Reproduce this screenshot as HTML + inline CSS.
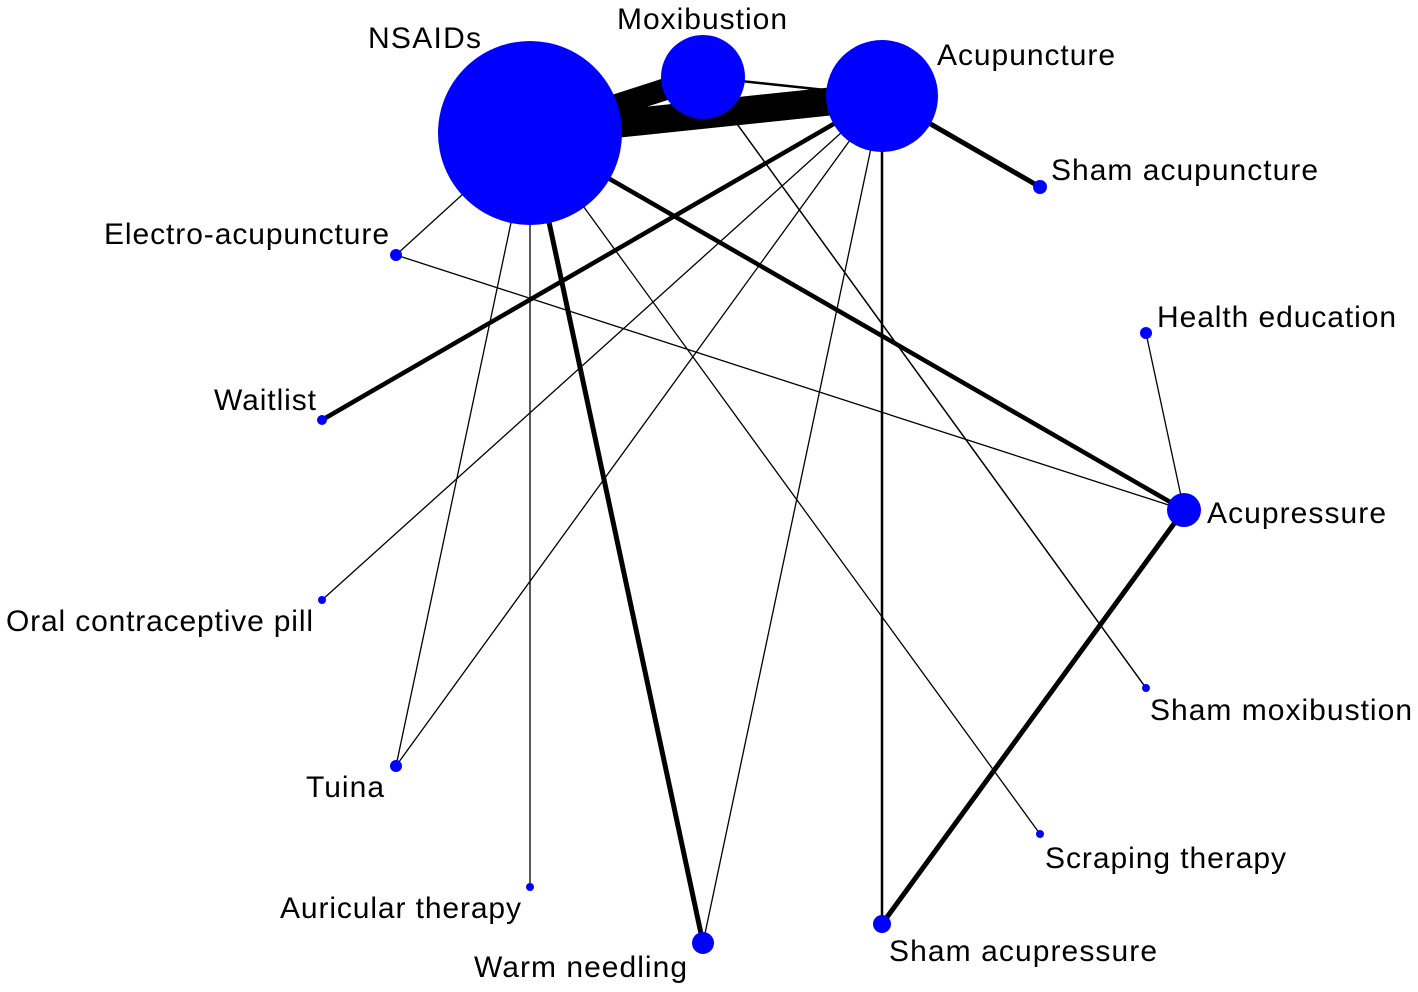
<!DOCTYPE html>
<html><head><meta charset="utf-8"><style>body{margin:0;background:#fff}svg{display:block}text{font-family:"Liberation Sans",sans-serif;font-size:30px;fill:#000}</style></head><body>
<svg width="1418" height="992" viewBox="0 0 1418 992" xmlns="http://www.w3.org/2000/svg">
<g stroke="#000" stroke-linecap="butt">
<line x1="530" y1="133" x2="703" y2="77" stroke-width="22"/>
<line x1="530" y1="133" x2="882" y2="96" stroke-width="28"/>
<line x1="703" y1="77" x2="882" y2="96" stroke-width="2.5"/>
<line x1="882" y1="96" x2="1040" y2="187" stroke-width="5"/>
<line x1="530" y1="133" x2="396" y2="255" stroke-width="1.3"/>
<line x1="396" y1="255" x2="1184" y2="510" stroke-width="1.3"/>
<line x1="1146" y1="333" x2="1184" y2="510" stroke-width="1.3"/>
<line x1="882" y1="96" x2="322" y2="420" stroke-width="4.5"/>
<line x1="530" y1="133" x2="1184" y2="510" stroke-width="4.5"/>
<line x1="882" y1="96" x2="322" y2="600" stroke-width="1.3"/>
<line x1="703" y1="77" x2="1146" y2="688" stroke-width="1.5"/>
<line x1="530" y1="133" x2="396" y2="766" stroke-width="1.3"/>
<line x1="882" y1="96" x2="396" y2="766" stroke-width="1.3"/>
<line x1="530" y1="133" x2="1040" y2="834" stroke-width="1.3"/>
<line x1="530" y1="133" x2="530" y2="887" stroke-width="1.3"/>
<line x1="530" y1="133" x2="703" y2="943" stroke-width="5"/>
<line x1="882" y1="96" x2="703" y2="943" stroke-width="1.3"/>
<line x1="882" y1="96" x2="882" y2="924" stroke-width="2.5"/>
<line x1="1184" y1="510" x2="882" y2="924" stroke-width="5"/>
</g>
<g fill="#0000ff">
<circle cx="530" cy="133" r="92"/>
<circle cx="703" cy="77" r="42"/>
<circle cx="882" cy="96" r="56"/>
<circle cx="1040" cy="187" r="7"/>
<circle cx="396" cy="255" r="6"/>
<circle cx="1146" cy="333" r="6"/>
<circle cx="322" cy="420" r="5"/>
<circle cx="1184" cy="510" r="17"/>
<circle cx="322" cy="600" r="4"/>
<circle cx="1146" cy="688" r="4"/>
<circle cx="396" cy="766" r="6"/>
<circle cx="1040" cy="834" r="4"/>
<circle cx="530" cy="887" r="4"/>
<circle cx="703" cy="943" r="11"/>
<circle cx="882" cy="924" r="9"/>
</g>
<text x="368" y="48" textLength="113">NSAIDs</text>
<text x="617" y="29" textLength="170">Moxibustion</text>
<text x="937" y="65" textLength="178">Acupuncture</text>
<text x="1051" y="180" textLength="267">Sham acupuncture</text>
<text x="104" y="244" textLength="285">Electro-acupuncture</text>
<text x="1157" y="327" textLength="239">Health education</text>
<text x="214" y="410" textLength="102">Waitlist</text>
<text x="1207" y="523" textLength="179">Acupressure</text>
<text x="6" y="631" textLength="307">Oral contraceptive pill</text>
<text x="1150" y="720" textLength="262">Sham moxibustion</text>
<text x="306" y="797" textLength="78">Tuina</text>
<text x="1045" y="868" textLength="241">Scraping therapy</text>
<text x="280" y="918" textLength="241">Auricular therapy</text>
<text x="474" y="977" textLength="213">Warm needling</text>
<text x="889" y="961" textLength="268">Sham acupressure</text>
</svg>
</body></html>
